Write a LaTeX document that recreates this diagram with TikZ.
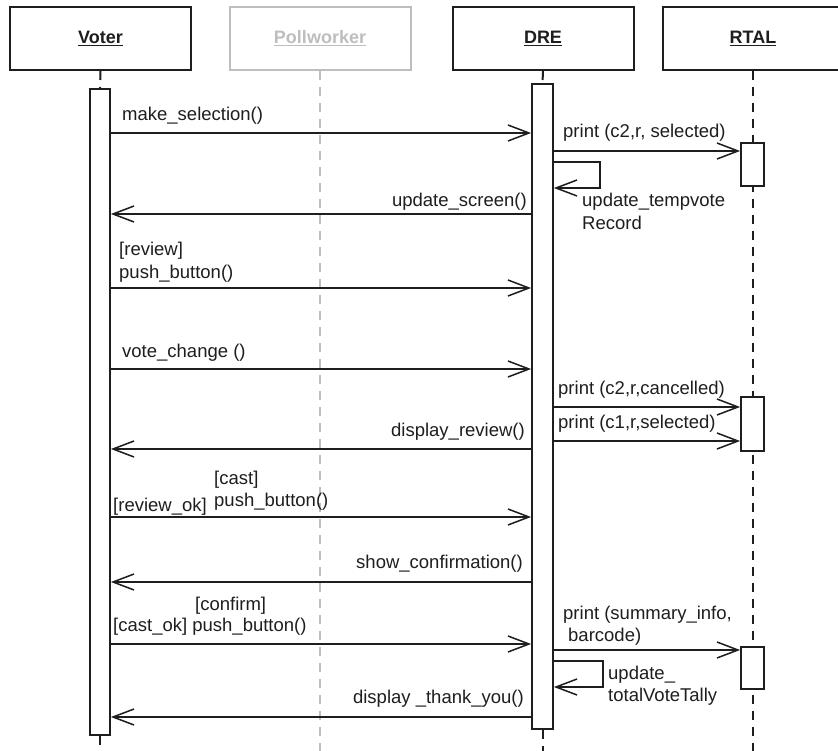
\documentclass[tikz,border=0pt]{standalone}
\usepackage{fontspec}
\setmainfont{Liberation Sans}
\usetikzlibrary{arrows.meta}
\definecolor{ink}{HTML}{1E1E1E}
\definecolor{pale}{HTML}{BEBEBE}
\begin{document}
\begin{tikzpicture}[x=1pt,y=-1pt,
  lbl/.style={font=\fontsize{18.5}{22.5}\selectfont, inner sep=0pt, text=ink, align=left},
  head/.style={draw=ink, line width=2pt, minimum width=181pt, minimum height=63pt, inner sep=0pt,
               font=\bfseries\fontsize{18}{22}\selectfont, text=ink, fill=white},
  actbar/.style={draw=ink, line width=1.8pt, fill=white, inner sep=0pt},
  msg/.style={line width=1.5pt, draw=ink, -{Straight Barb[length=21pt,width=16pt,line width=1.5pt]}},
  life/.style={line width=2pt, draw=ink, dash pattern=on 9pt off 7pt},
  palelife/.style={line width=2pt, draw=pale, dash pattern=on 9pt off 7pt}]
\clip (0,0) rectangle (838,751);
\fill[white] (0,0) rectangle (838,751);

% headers
\node[head] (voter) at (100.5,38.5) {\underline{Voter}};
\node[head, draw=pale, text=pale] (poll) at (320,38.5) {\underline{Pollworker}};
\node[head] (dre) at (543,38.5) {\underline{DRE}};
\node[head] (rtal) at (753,38.5) {\underline{RTAL}};

% lifeline ends
\coordinate (bottom) at (0,751);

% activation bars
\node[actbar, minimum width=20pt, minimum height=646pt] (vbar) at (100,412) {};
\node[actbar, minimum width=21pt, minimum height=645pt] (dbar) at (542.5,406.5) {};

% lifelines
\draw[life] (voter.south) -- (vbar.north);
\draw[life] (vbar.south) -- (vbar.south |- bottom);
\draw[palelife] (poll.south) -- (poll.south |- bottom);
\draw[life] (dre.south) -- (dbar.north);
\draw[life] (dbar.south) -- (dbar.south |- bottom);
\draw[life] (rtal.south) -- (rtal.south |- bottom);

% RTAL activation boxes
\node[actbar, minimum width=23pt, minimum height=43pt] (r1) at (752.5,164.5) {};
\node[actbar, minimum width=23pt, minimum height=54pt] (r2) at (752.5,424) {};
\node[actbar, minimum width=23pt, minimum height=42pt] (r3) at (752.5,668) {};

% message levels
\coordinate (m1) at (0,133);
\coordinate (m2) at (0,151);
\coordinate (s1a) at (600,162);
\coordinate (s1b) at (600,188);
\coordinate (m3) at (0,214);
\coordinate (m4) at (0,288);
\coordinate (m5) at (0,369);
\coordinate (m6) at (0,407);
\coordinate (m7) at (0,441);
\coordinate (m8) at (0,449);
\coordinate (m9) at (0,517);
\coordinate (m10) at (0,582);
\coordinate (m11) at (0,644);
\coordinate (m12) at (0,650);
\coordinate (s2a) at (603,661);
\coordinate (s2b) at (603,687);
\coordinate (m13) at (0,717);

% messages
\draw[msg] (vbar.east |- m1) -- (dbar.west |- m1);
\draw[msg] (dbar.east |- m2) -- (r1.west |- m2);
\draw[msg] (dbar.east |- s1a) -- (s1a) -- (s1b) -- (dbar.east |- s1b);
\draw[msg] (dbar.west |- m3) -- (vbar.east |- m3);
\draw[msg] (vbar.east |- m4) -- (dbar.west |- m4);
\draw[msg] (vbar.east |- m5) -- (dbar.west |- m5);
\draw[msg] (dbar.east |- m6) -- (r2.west |- m6);
\draw[msg] (dbar.east |- m7) -- (r2.west |- m7);
\draw[msg] (dbar.west |- m8) -- (vbar.east |- m8);
\draw[msg] (vbar.east |- m9) -- (dbar.west |- m9);
\draw[msg] (dbar.west |- m10) -- (vbar.east |- m10);
\draw[msg] (vbar.east |- m11) -- (dbar.west |- m11);
\draw[msg] (dbar.east |- m12) -- (r3.west |- m12);
\draw[msg] (dbar.east |- s2a) -- (s2a) -- (s2b) -- (dbar.east |- s2b);
\draw[msg] (dbar.west |- m13) -- (vbar.east |- m13);

% labels
\node[lbl, anchor=west] (t1) at (122,116) {make\_selection()};
\node[lbl, anchor=west] (t2) at (563,133) {print (c2,r, selected)};
\node[lbl, anchor=west] (t3) at (582,211.5) {update\_tempvote\\Record};
\node[lbl, anchor=east] (t4) at (527,202) {update\_screen()};
\node[lbl, anchor=west] (t5) at (119,262) {[review]\\push\_button()};
\node[lbl, anchor=west] (t6) at (122,353) {vote\_change ()};
\node[lbl, anchor=west] (t7) at (558,390) {print (c2,r,cancelled)};
\node[lbl, anchor=west] (t8) at (558,424) {print (c1,r,selected)};
\node[lbl, anchor=east] (t9) at (525,432) {display\_review()};
\node[lbl, anchor=west] (t10) at (214,490.5) {[cast]\\push\_button()};
\node[lbl, anchor=west] (t11) at (113,507) {[review\_ok]};
\node[lbl, anchor=east] (t12) at (523,564) {show\_confirmation()};
\node[lbl, anchor=west] (t13) at (195,606) {[confirm]};
\node[lbl, anchor=west] (t14) at (113,627) {[cast\_ok] push\_button()};
\node[lbl, anchor=west] (t15) at (563,625.5) {print (summary\_info,\\\hspace*{5pt}barcode)};
\node[lbl, anchor=west] (t16) at (608,685.5) {update\_\\totalVoteTally};
\node[lbl, anchor=east] (t17) at (524,699) {display \_thank\_you()};
\end{tikzpicture}
\end{document}
